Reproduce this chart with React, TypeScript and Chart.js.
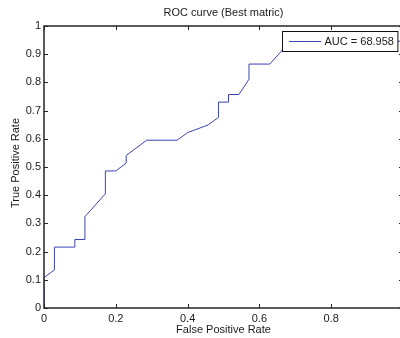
import React, { useEffect, useRef } from 'react';
import { Chart, registerables } from 'chart.js';

Chart.register(...registerables);

const FPR = [0, 0, 0.029, 0.029, 0.086, 0.086, 0.114, 0.114, 0.171, 0.171, 0.2, 0.229, 0.229, 0.286, 0.371, 0.4, 0.457, 0.486, 0.486, 0.514, 0.514, 0.543, 0.571, 0.571, 0.629, 0.686, 1, 1];
const TPR = [0, 0.108, 0.135, 0.216, 0.216, 0.243, 0.243, 0.324, 0.405, 0.486, 0.486, 0.514, 0.541, 0.595, 0.595, 0.622, 0.649, 0.676, 0.73, 0.73, 0.757, 0.757, 0.811, 0.865, 0.865, 0.946, 0.946, 1];
const SERIES_LABEL = 'AUC = 68.958';
const TITLE = 'ROC curve (Best matric)';
const X_TITLE = 'False Positive Rate';
const Y_TITLE = 'True Positive Rate';
const X_TICKS = [0, 0.2, 0.4, 0.6, 0.8, 1];
const X_TICK_LABELS = ['0', '0.2', '0.4', '0.6', '0.8', ''];
const Y_TICKS = [0, 0.1, 0.2, 0.3, 0.4, 0.5, 0.6, 0.7, 0.8, 0.9, 1];
const Y_TICK_LABELS = ['0', '0.1', '0.2', '0.3', '0.4', '0.5', '0.6', '0.7', '0.8', '0.9', '1'];

const FAMILY = '"Liberation Sans", Arial, Helvetica, sans-serif';
const LINE_COLOR = '#3b43b4';
const TEXT_COLOR = '#1a1a1a';

const matlabPlugin = {
  id: 'matlabDecor',
  afterDatasetsDraw(chart: any) {
    const { ctx, chartArea, scales } = chart;
    const { left, right, top, bottom } = chartArea;
    const x = scales.x;
    const y = scales.y;
    ctx.save();
    // inward ticks on all four sides
    ctx.strokeStyle = '#262626';
    ctx.lineWidth = 1;
    ctx.beginPath();
    X_TICKS.forEach((v) => {
      const px = Math.round(x.getPixelForValue(v)) + 0.5;
      ctx.moveTo(px, bottom);
      ctx.lineTo(px, bottom - 4);
      ctx.moveTo(px, top);
      ctx.lineTo(px, top + 4);
    });
    Y_TICKS.forEach((v) => {
      const py = Math.round(y.getPixelForValue(v)) + 0.5;
      ctx.moveTo(left, py);
      ctx.lineTo(left + 4, py);
      ctx.moveTo(right, py);
      ctx.lineTo(right - 4, py);
    });
    ctx.stroke();
    // box
    ctx.lineWidth = 1.5;
    ctx.strokeStyle = '#262626';
    ctx.strokeRect(left, top, right - left, bottom - top);

    // legend
    ctx.font = `11px ${FAMILY}`;
    const label = chart.data.datasets[0].label;
    const tw = ctx.measureText(label).width;
    const w = 6.5 + 32 + 3.5 + tw + 4;
    const h = 20;
    const lx = Math.round(right - 6 - w) + 0.5;
    const ly = Math.round(top + 5) + 0.5;
    ctx.fillStyle = '#ffffff';
    ctx.fillRect(lx, ly, w, h);
    ctx.strokeStyle = '#111111';
    ctx.lineWidth = 1;
    ctx.strokeRect(lx, ly, w, h);
    ctx.strokeStyle = LINE_COLOR;
    ctx.beginPath();
    ctx.moveTo(lx + 6.5, ly + h / 2);
    ctx.lineTo(lx + 6.5 + 32, ly + h / 2);
    ctx.stroke();
    ctx.fillStyle = TEXT_COLOR;
    ctx.textAlign = 'left';
    ctx.textBaseline = 'middle';
    ctx.fillText(label, lx + 6.5 + 32 + 3.5, ly + h / 2 + 0.5);

    // titles
    const cx = (left + right) / 2;
    ctx.textAlign = 'center';
    ctx.textBaseline = 'middle';
    ctx.fillText(TITLE, cx, 13);
    ctx.fillText(X_TITLE, cx, 330);
    ctx.save();
    ctx.translate(16, 163);
    ctx.rotate(-Math.PI / 2);
    ctx.fillText(Y_TITLE, 0, 0);
    ctx.restore();
    ctx.restore();
  },
};

export default function App() {
  const ref = useRef<HTMLCanvasElement | null>(null);
  useEffect(() => {
    if (!ref.current) return;
    const chart = new Chart(ref.current, {
      type: 'scatter',
      data: {
        datasets: [
          {
            label: SERIES_LABEL,
            data: FPR.map((v, i) => ({ x: v, y: TPR[i] })),
            showLine: true,
            borderColor: LINE_COLOR,
            backgroundColor: LINE_COLOR,
            borderWidth: 1,
            pointRadius: 0,
            tension: 0,
          },
        ],
      },
      options: {
        animation: false,
        responsive: false,
        layout: { padding: { left: 0, top: 26, right: 17, bottom: 0 } },
        plugins: {
          legend: { display: false },
          title: { display: false },
          tooltip: { enabled: false },
        },
        scales: {
          x: {
            type: 'linear',
            min: 0,
            max: 1,
            border: { display: false },
            grid: { display: false, drawTicks: false },
            afterBuildTicks: (s: any) => {
              s.ticks = X_TICKS.map((v) => ({ value: v }));
            },
            afterFit: (s: any) => {
              s.height = 30;
              s.paddingLeft = 0;
              s.paddingRight = 0;
              s.paddingTop = 0;
              s.paddingBottom = 0;
            },
            ticks: {
              padding: 4,
              maxRotation: 0,
              autoSkip: false,
              color: TEXT_COLOR,
              font: { family: FAMILY, size: 11 },
              callback: (_v: any, i: number) => X_TICK_LABELS[i],
            },
          },
          y: {
            type: 'linear',
            min: 0,
            max: 1,
            border: { display: false },
            grid: { display: false, drawTicks: false },
            afterBuildTicks: (s: any) => {
              s.ticks = Y_TICKS.map((v) => ({ value: v }));
            },
            afterFit: (s: any) => {
              s.width = 44;
              s.paddingLeft = 0;
              s.paddingRight = 0;
              s.paddingTop = 0;
              s.paddingBottom = 0;
            },
            ticks: {
              padding: 3,
              autoSkip: false,
              color: TEXT_COLOR,
              font: { family: FAMILY, size: 11 },
              callback: (_v: any, i: number) => Y_TICK_LABELS[i],
            },
          },
        },
      },
      plugins: [matlabPlugin],
    } as any);
    return () => chart.destroy();
  }, []);
  return (
    <div style={{ position: 'fixed', left: 0, top: 0, width: 420, height: 338, background: '#ffffff' }}>
      <canvas ref={ref} width={420} height={338} style={{ display: 'block' }} />
    </div>
  );
}
